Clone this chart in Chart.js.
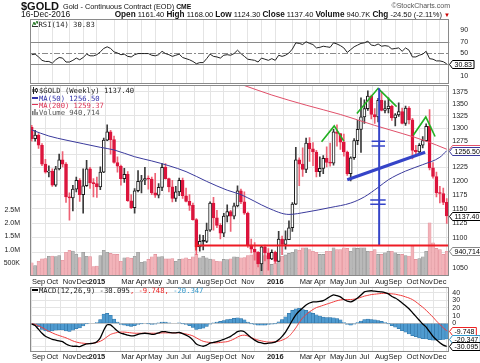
<!DOCTYPE html>
<html><head><meta charset="utf-8">
<script src="https://cdn.jsdelivr.net/npm/chart.js@4.4.0/dist/chart.umd.min.js"></script>
<style>
html,body{margin:0;padding:0;background:#fff;}
body{width:480px;height:363px;position:relative;overflow:hidden;font-family:'Liberation Sans',Arial,sans-serif;color:#111;}
canvas{position:absolute;left:0;top:0;}
.t{position:absolute;white-space:nowrap;line-height:1;}
.m{font-family:'DejaVu Sans Mono',monospace;font-size:7.2px;color:#222;}
.dash{display:inline-block;width:6px;height:1.5px;vertical-align:middle;margin-right:1px;position:relative;top:-1px;}
svg.ic{position:absolute;}
</style></head><body>
<canvas id="cRsi" width="480" height="363"></canvas>
<canvas id="cPrice" width="480" height="363"></canvas>
<canvas id="cMacd" width="480" height="363"></canvas>

<div class="t" style="left:21px;top:1px;font-weight:bold;font-size:11px;">$GOLD</div>
<div class="t" style="left:63px;top:3px;font-size:7.3px;">Gold - Continuous Contract (EOD) <b style="font-size:6.8px">CME</b></div>
<div class="t" style="right:30px;top:2px;font-size:7px;color:#555;">©StockCharts.com</div>
<div class="t" style="left:21px;top:10px;font-size:8.5px;">16-Dec-2016</div>
<div class="t" style="right:30px;top:10.8px;font-size:7.5px;"><b style="font-size:8.2px">Open</b> 1161.40 <b style="font-size:8.2px">High</b> 1168.00 <b style="font-size:8.2px">Low</b> 1124.30 <b style="font-size:8.2px">Close</b> 1137.40 <b style="font-size:8.2px">Volume</b> 940.7K <b style="font-size:8.2px">Chg</b> -24.50 (-2.11%) <span style="color:#c00;font-size:6px">▼</span></div>

<svg class="ic" style="left:32px;top:21px" width="6" height="6"><polyline points="0,6 2,1 3,4 5,0 6,3" fill="none" stroke="#2a7a2a" stroke-width="1"/><line x1="0" y1="5.5" x2="6" y2="5.5" stroke="#333" stroke-width="1"/></svg>
<div class="t m" style="left:38.5px;top:20.5px;">RSI(14) 30.83</div>
<svg class="ic" style="left:32px;top:87px" width="6" height="7"><line x1="1.5" y1="0" x2="1.5" y2="7" stroke="#222"/><rect x="0.5" y="2" width="2" height="3" fill="#222"/><line x1="4.5" y1="1" x2="4.5" y2="6" stroke="#222"/><rect x="3.5" y="2" width="2" height="2.5" fill="#fff" stroke="#222" stroke-width="0.8"/></svg>
<div class="t m" style="left:39px;top:86.5px;">$GOLD (Weekly) 1137.40</div>
<div class="t m" style="left:32px;top:94.8px;color:#3333aa;"><span class="dash" style="background:#3333aa"></span>MA(50) 1256.50</div>
<div class="t m" style="left:32px;top:101.5px;color:#dd3355;"><span class="dash" style="background:#dd3355"></span>MA(200) 1259.37</div>
<svg class="ic" style="left:32px;top:109px" width="6" height="6"><rect x="0" y="2" width="1.5" height="4" fill="#777"/><rect x="2.2" y="0" width="1.5" height="6" fill="#777"/><rect x="4.4" y="3" width="1.5" height="3" fill="#777"/></svg>
<div class="t m" style="left:39px;top:108.8px;color:#555;">Volume 940,714</div>
<div class="t m" style="left:32px;top:286.8px;"><span class="dash" style="background:#000"></span>MACD(12,26,9) -30.095<span style="color:#e22">, -9.748,</span> <span style="color:#39c">-20.347</span></div>

<script>
// ---------- DATA (weekly, 22-Aug-2014 .. 16-Dec-2016) ----------
const open = [1302,1280,1287,1267,1231,1216,1218,1192,1222,1239, 1231,1171,1169,1185,1201,1175,1191,1222,1196,1195, 1189,1216,1277,1293,1278,1234,1227,1204,1212,1164, 1152,1182,1199,1201,1204,1203,1178,1174,1188,1225, 1204,1189,1168,1180,1201,1173,1163,1156,1131,1085, 1094,1094,1113,1160,1134,1121,1108,1137,1145,1137, 1155,1182,1162,1142,1088,1081,1076,1057,1085,1075, 1065,1076,1061,1098,1089,1097,1117,1158,1239,1231, 1221,1271,1260,1254,1217,1223,1242,1234,1233,1293, 1290,1273,1254,1213,1243,1276,1298,1323,1340,1366, 1328,1323,1357,1336,1340,1345,1321,1327,1334,1310, 1341,1317,1257,1254,1267,1276,1304,1224,1208,1178, 1177,1161.4];
const high = [1306,1296,1290,1270,1240,1228,1222,1227,1250,1255, 1234,1178,1192,1207,1204,1222,1238,1225,1204,1207, 1226,1281,1307,1296,1285,1245,1229,1223,1217,1175, 1186,1219,1210,1225,1209,1207,1214,1195,1232,1232, 1205,1201,1190,1205,1205,1187,1175,1160,1133,1105, 1104,1125,1162,1170,1147,1124,1142,1157,1147,1160, 1191,1185,1180,1144,1098,1092,1077,1086,1088,1082, 1080,1078,1111,1103,1112,1129,1161,1263,1243,1262, 1281,1282,1272,1257,1245,1247,1264,1271,1298,1307, 1290,1289,1256,1245,1280,1316,1362,1358,1377,1368, 1340,1361,1375,1356,1362,1347,1330,1352,1341,1345, 1344,1320,1267,1270,1284,1309,1338,1234,1216,1190, 1187,1168];
const low = [1275,1275,1261,1228,1214,1207,1190,1190,1220,1226, 1161,1130,1146,1180,1163,1142,1190,1186,1171,1170, 1184,1215,1276,1250,1233,1216,1192,1197,1163,1150, 1142,1180,1178,1193,1185,1175,1170,1169,1182,1203, 1180,1162,1163,1173,1168,1162,1147,1130,1072,1078, 1080,1092,1111,1113,1117,1098,1102,1127,1111,1132, 1153,1159,1140,1084,1075,1063,1052,1046,1062,1047, 1064,1058,1061,1072,1081,1097,1111,1157,1191,1208, 1215,1236,1228,1207,1208,1213,1226,1227,1229,1265, 1259,1246,1210,1200,1240,1268,1253,1310,1336,1319, 1310,1313,1335,1331,1331,1316,1305,1324,1309,1306, 1309,1241,1248,1252,1262,1275,1220,1205,1171,1160, 1157,1124.3];
const close = [1280,1287,1267,1231,1216,1218,1192,1222,1239,1231, 1171,1169,1185,1201,1175,1191,1222,1196,1195,1189, 1216,1277,1293,1278,1234,1227,1204,1212,1164,1152, 1182,1199,1201,1204,1203,1178,1174,1188,1225,1204, 1189,1168,1180,1201,1173,1163,1156,1131,1085,1094, 1094,1113,1160,1134,1121,1108,1137,1145,1137,1155, 1182,1162,1142,1088,1081,1076,1057,1085,1075,1065, 1076,1061,1098,1089,1097,1117,1158,1239,1231,1221, 1271,1260,1254,1217,1223,1242,1234,1233,1293,1290, 1273,1254,1213,1243,1276,1298,1323,1340,1366,1328, 1323,1357,1336,1340,1345,1321,1327,1334,1310,1341, 1317,1257,1254,1267,1276,1304,1224,1208,1178,1177, 1161,1137.4];
// volume in millions
const volume = [0.50,0.40,0.56,0.65,0.66,0.75,0.76,0.74,0.78,0.60, 0.90,0.98,0.95,0.83,0.70,0.90,0.75,0.74,0.36,0.38, 0.78,0.98,0.90,0.86,0.83,0.82,0.56,0.69,0.70,0.68, 0.75,0.90,0.52,0.55,0.63,0.73,0.82,0.73,0.74,0.65, 0.65,0.66,0.56,0.63,0.65,0.69,0.63,0.73,0.82,0.69, 0.75,0.69,0.64,0.62,0.56,0.55,0.63,0.62,0.65,0.73, 0.72,0.69,0.70,0.78,0.80,0.94,0.90,0.82,0.78,0.63, 0.44,0.50,0.70,0.75,0.80,0.86,0.90,1.00,0.98,1.07, 1.07,1.00,0.94,0.90,0.82,0.82,0.94,0.94,1.07,1.00, 1.00,1.07,1.05,0.94,1.07,1.05,1.07,1.07,0.94,0.94, 1.00,0.82,0.82,0.88,0.94,0.94,0.88,0.82,0.82,0.78, 0.76,1.16,0.63,0.66,0.73,0.94,2.02,1.26,1.05,1.00, 0.82,0.9407];
const rsi = [47,48,43,37,35,35,32,38,42,41, 34,34,37,41,38,42,48,45,45,47, 52,58,61,58,52,50,47,48,44,43, 47,49,49,49,49,46,45,47,53,49, 47,44,46,48,42,40,38,35,31,33, 33,40,48,44,43,41,46,47,46,49, 55,49,44,39,38,37,34,41,39,37, 40,37,46,44,46,50,57,68,67,65, 70,67,65,59,60,62,61,60,68,66, 63,59,51,56,61,64,67,68,71,64, 63,66,62,63,62,57,58,59,53,59, 55,43,43,46,48,53,40,39,36,36, 34.5,30.83];
const macd = [-1,-3,-8,-13,-17,-19,-21,-22,-23,-24, -27,-29,-30,-30,-30.5,-28.5,-27,-26.5,-26,-24, -19,-9,-2,-2,-6,-10,-13,-14,-15.5,-16.5, -16,-14.5,-13.5,-13,-13.5,-14.5,-14,-12.5,-11,-11, -12,-12.5,-12.5,-12,-13.5,-15.5,-18,-22,-27,-29, -30,-28.5,-26,-25,-24,-22.5,-21,-19,-17,-14, -11,-10,-11,-15,-19,-22,-24.5,-25.5,-26.5,-26, -25.5,-24.5,-21.5,-17,-11.5,-4,4,11,16,20, 24,26.5,28,28,28.5,29.5,32,35,37,36, 34.5,31,29,28,30,33,37,41,42,42.5, 42,41.5,41,40,38.5,35,33,30,26.5,23, 19,14,9,4,-1,-5,-11,-17,-21.5,-25.5, -28.5,-30.095];
const signal = [-0.5,-1.5,-3.5,-5.5,-8,-10.5,-12.5,-14.5,-16,-17.5, -19,-21,-23,-24.5,-25.5,-26,-26.5,-26.5,-26,-25, -23.5,-21,-17.5,-14.5,-13,-12,-11.5,-11.5,-12,-12.5, -13,-13,-13,-13,-13,-13,-13,-13,-12.5,-12.5, -12.5,-12.5,-12.5,-12.5,-13,-14,-15,-16.5,-19,-21.5, -23.5,-24.5,-25,-25.5,-25.5,-25,-24.5,-24,-22.5,-20.5, -18,-16,-15.5,-16.5,-18.5,-20.5,-22,-23,-24,-24.5, -24.5,-24,-23.5,-22,-20,-17,-12,-6,1,7, 11.5,15,18,20.5,22,23.5,25,26.5,28,29.5, 30.5,31,31,31,31.5,32.5,34,35.5,36.5,37.5, 38,38.5,39,39.2,39,38.5,38,37,36,34.5, 33,31,28,24.5,21,17,12.5,8,3,-1.5, -6,-9.748];
const histogram = [-0.5,-1.5,-4.5,-8,-10,-10.5,-10,-9,-8.5,-8.5, -10,-10.5,-9,-7,-6,-3.5,-0.5,0,0,1, 5,12,13,10.5,5.5,1.5,-1.5,-2.5,-3.5,-4, -3,-1.5,-0.5,0,-0.5,-1.5,-1,0.5,1.5,1.5, 0.5,0,0,0.5,-0.5,-1.5,-3,-5.5,-8,-7.5, -6.5,-4,-1,0.5,1.5,2.5,3.5,5,5.5,6.5, 7,6,4.5,1.5,-0.5,-1.5,-2.5,-2.5,-2.5,-1.5, -1,-0.5,2,5,8.5,13,17,19,19.5,18, 17,15,13,11,9.5,8,7.5,7.5,7,6, 4.5,1,-1.5,-2.5,-1,1,3,5,5.5,5, 4.5,3.5,2.5,1,-0.5,-3,-5,-7,-9.5,-11.5, -14,-16,-17.5,-19,-20,-20.5,-21.5,-22,-22,-21.5, -21,-20.347];
// moving averages read at sampled weeks
const ma50Weeks  = [0,5,10,15,20,24,30,35,40,45,51,57,61,65,69,75,80,87,93,97,101,104,109,114,119,121];
const ma50Values = [1297,1285,1277,1270,1263,1258,1245,1237,1228,1217,1199,1183,1175,1163,1151,1140,1144,1152,1160,1171,1188,1202,1218,1230,1244,1256.5];
const ma200Weeks  = [50,55,62,70,80,90,100,108,115,121];
const ma200Values = [1418,1405,1388,1368,1347,1328,1306,1290,1275,1259.37];
// hand-drawn annotations [week, price]
const leftShoulder  = [[84.5,1274],[88.2,1305],[91.0,1275]];
const headLine      = [[94.8,1330],[101.0,1382],[106.4,1344]];
const rightShoulder = [[111.3,1287],[114.9,1323],[117.6,1284]];
const neckline      = [[92.0,1202],[114.7,1253.5]];
const measureLine   = [[101.3,1382],[101.3,1087]];
const equalUpperA = [[99.1,1275],[103.0,1275]];
const equalUpperB = [[99.1,1265.5],[103.0,1265.5]];
const equalLowerA = [[98.7,1165.5],[103.2,1165.5]];
const equalLowerB = [[98.7,1157.7],[103.2,1157.7]];
const targetLine  = [[47.6,1087],[121.75,1087]];
const targetTick  = [[47.9,1094],[47.9,1079]];
// ticks
const monthWeeks  = [2,6,11,15,19,24,28,32,36,41,45,50,54,58,63,67,71,76,80,84,89,93,97,102,106,111,115,119];
const monthLabels = ['Sep','Oct','Nov','Dec','2015','','Mar','Apr','May','Jun','Jul','Aug','Sep','Oct','Nov','','2016','','Mar','Apr','May','Jun','Jul','Aug','Sep','Oct','Nov','Dec'];
const priceTicks = [1050,1075,1100,1125,1150,1175,1200,1225,1250,1275,1300,1325,1350,1375];
const volTicks = [0.5,1.0,1.5,2.0,2.5];
const volTickLabels = ['500K','1.0M','1.5M','2.0M','2.5M'];
const rsiTicks = [10,30,50,70,90];
const macdTicks = [-30,-20,-10,0,10,20,30,40];

// ---------- helpers ----------
Chart.defaults.font.family = "'Liberation Sans', Arial, sans-serif";
Chart.defaults.animation = false;
const X_MIN = -0.5, X_MAX = 121.75;
const series = v => v.map((y,i)=>({x:i,y}));
const pts = a => a.map(p=>({x:p[0],y:p[1]}));
const zip = (w,v) => w.map((x,i)=>({x,y:v[i]}));
const GRID = '#e4e4e4';

function xScale(show, h){
  return {type:'linear', min:X_MIN, max:X_MAX, offset:false,
    afterBuildTicks:s=>{ s.ticks = monthWeeks.map(v=>({value:v})); },
    afterFit:s=>{ s.height = h; },
    ticks:{display:show, autoSkip:false, maxRotation:0, minRotation:0, padding:1, color:'#222',
      font:c=>({size:7.5, weight: /^\d{4}$/.test(monthLabels[c.index]||'') ? 'bold':'normal'}),
      callback:(v,i)=>monthLabels[i]},
    grid:{color:GRID, drawTicks:false}, border:{display:false}};
}
function rightY(extra){
  return Object.assign({position:'right', afterFit:s=>{s.width = 30.7;},
    ticks:{padding:3, color:'#222', font:{size:7}, autoSkip:false},
    grid:{color:GRID, drawTicks:false}, border:{display:false}}, extra);
}
function framePlugin(){
  return {id:'frame', afterDraw(chart){
    const c=chart.ctx, a=chart.chartArea; c.save(); c.strokeStyle='#8a8a8a'; c.lineWidth=1;
    const l=Math.round(a.left)+0.5, r=Math.round(a.right)-0.5, t=Math.round(a.top)+0.5, b=Math.round(a.bottom)-0.5;
    c.strokeRect(l,t,r-l,b-t); c.restore(); }};
}
function boxPlugin(items){
  return {id:'boxes', afterDraw(chart){
    const c=chart.ctx, a=chart.chartArea;
    items.forEach(b=>{
      const y=Math.round(chart.scales[b.scale].getPixelForValue(b.value))+0.5;
      c.save(); c.font='7px "Liberation Sans", Arial';
      const w=c.measureText(b.text).width+4, x0=Math.round(a.right)+0.5, h=8;
      c.beginPath(); c.moveTo(x0,y); c.lineTo(x0+3,y-h/2); c.lineTo(x0+3+w,y-h/2); c.lineTo(x0+3+w,y+h/2); c.lineTo(x0+3,y+h/2); c.closePath();
      c.fillStyle='#fff'; c.fill(); c.strokeStyle=b.color; c.lineWidth=1; c.stroke();
      c.fillStyle='#000'; c.textBaseline='middle'; c.textAlign='left'; c.fillText(b.text,x0+5,y+0.5);
      c.restore();
    });
  }};
}
const common = {responsive:false, animation:false, devicePixelRatio:1, events:[],
  plugins:{legend:{display:false}, tooltip:{enabled:false}}};

// ---------- RSI ----------
const rsiLevels = {id:'levels', beforeDatasetsDraw(chart){
  const c=chart.ctx, a=chart.chartArea, ys=chart.scales.y;
  c.save(); c.strokeStyle='#8a8a8a'; c.lineWidth=1;
  [70,30].forEach(v=>{const y=Math.round(ys.getPixelForValue(v))+0.5; c.beginPath(); c.moveTo(a.left,y); c.lineTo(a.right,y); c.stroke();});
  c.setLineDash([6,2,2,2]); const y=Math.round(ys.getPixelForValue(50))+0.5; c.beginPath(); c.moveTo(a.left,y); c.lineTo(a.right,y); c.stroke();
  c.restore(); }};
new Chart(document.getElementById('cRsi'), {
  type:'line',
  data:{datasets:[{data:series(rsi), borderColor:'#222', borderWidth:1, pointRadius:0, tension:0}]},
  options:Object.assign({}, common, {
    layout:{padding:{top:19, bottom:279, left:30, right:0}},
    scales:{
      x: xScale(false, 0),
      y: rightY({type:'linear', min:-4.9, max:110.2,
        afterBuildTicks:s=>{s.ticks = rsiTicks.map(v=>({value:v}));},
        ticks:{padding:3, color:'#222', font:{size:7}, autoSkip:false, callback:v=>String(v)},
        grid:{display:false}})
    }}),
  plugins:[rsiLevels, framePlugin(), boxPlugin([{scale:'y', value:30.83, text:'30.83', color:'#000'}])]
});

// ---------- PRICE + VOLUME ----------
const isDown = close.map((c,i)=> i===0 ? c<open[0] : c<close[i-1]);
const bodyLine = isDown.map(d=> d ? '#dc143c' : '#1a1a1a');
const bodyFill = close.map((c,i)=> c>open[i] ? '#ffffff' : bodyLine[i]);
const wickCol = isDown.map(d=> d ? '#ee6275' : '#3a3a3a');
const volFill = isDown.map(d=> d ? '#f3b3b9' : '#b9b9b9');
const volEdge = isDown.map(d=> d ? '#e0909a' : '#939393');
function annot(arr, color, width){
  return {type:'line', data:pts(arr), borderColor:color, borderWidth:width, pointRadius:0, tension:0, order:0, yAxisID:'y'};
}
new Chart(document.getElementById('cPrice'), {
  type:'bar',
  data:{datasets:[
    {type:'bar', yAxisID:'vol', order:6, grouped:false, barThickness:3.1, data:series(volume),
      backgroundColor:volFill, borderColor:volEdge, borderWidth:0.6, borderSkipped:false},
    {type:'bar', yAxisID:'y', order:5, grouped:false, barThickness:1, data:high.map((h,i)=>({x:i,y:[low[i],h]})),
      backgroundColor:wickCol, borderWidth:0},
    {type:'bar', yAxisID:'y', order:4, grouped:false, barThickness:3, minBarLength:1, data:open.map((o,i)=>({x:i,y:[o,close[i]]})),
      backgroundColor:bodyFill, borderColor:bodyLine, borderWidth:1, borderSkipped:false},
    {type:'line', yAxisID:'y', order:3, data:zip(ma200Weeks,ma200Values), borderColor:'#e0506a', borderWidth:1, pointRadius:0, cubicInterpolationMode:'monotone'},
    {type:'line', yAxisID:'y', order:2, data:zip(ma50Weeks,ma50Values), borderColor:'#3a3a9c', borderWidth:1, pointRadius:0, cubicInterpolationMode:'monotone'},
    annot(targetLine,'#ee1b24',2), annot(targetTick,'#ee1b24',1.5),
    annot(measureLine,'#3544c8',2), annot(neckline,'#3544c8',3),
    annot(equalUpperA,'#3544c8',1.5), annot(equalUpperB,'#3544c8',1.5),
    annot(equalLowerA,'#3544c8',1.5), annot(equalLowerB,'#3544c8',1.5),
    annot(leftShoulder,'#22b022',1.6), annot(headLine,'#22b022',1.6), annot(rightShoulder,'#22b022',1.6)
  ]},
  options:Object.assign({}, common, {
    layout:{padding:{top:85, bottom:75, left:0, right:0}},
    scales:{
      x: xScale(true, 12),
      y: rightY({type:'logarithmic', min:1037.7, max:1389.1, bounds:'data',
        afterBuildTicks:s=>{s.ticks = priceTicks.map(v=>({value:v}));},
        ticks:{padding:3, color:'#222', font:{size:7}, autoSkip:false, callback:v=>String(v)}}),
      vol:{type:'linear', position:'left', min:0, max:7.26,
        afterBuildTicks:s=>{s.ticks = volTicks.map(v=>({value:v}));},
        afterFit:s=>{s.width = 30;},
        ticks:{padding:2, color:'#222', font:{size:7}, autoSkip:false, callback:(v,i)=>volTickLabels[i]},
        grid:{display:false}, border:{display:false}}
    }}),
  plugins:[framePlugin(), boxPlugin([
    {scale:'vol', value:0.940714, text:'940,714', color:'#888'},
    {scale:'y', value:1137.40, text:'1137.40', color:'#000'},
    {scale:'y', value:1259.37, text:'1259.37', color:'#e0506a'},
    {scale:'y', value:1256.50, text:'1256.50', color:'#3a3a9c'}
  ])]
});

// ---------- MACD ----------
new Chart(document.getElementById('cMacd'), {
  type:'bar',
  data:{datasets:[
    {type:'line', order:1, data:series(macd), borderColor:'#000', borderWidth:1.3, pointRadius:0, tension:0.2},
    {type:'line', order:2, data:series(signal), borderColor:'#f03c3c', borderWidth:1, pointRadius:0, tension:0.2},
    {type:'bar', order:3, grouped:false, barThickness:3.43, data:series(histogram),
      backgroundColor:'#4f9bd0', borderColor:'#2a6d9e', borderWidth:0.5, borderSkipped:false}
  ]},
  options:Object.assign({}, common, {
    layout:{padding:{top:286.7, bottom:0.3, left:30, right:0}},
    scales:{
      x: xScale(true, 11),
      y: rightY({type:'linear', min:-37.1, max:47.8,
        afterBuildTicks:s=>{s.ticks = macdTicks.map(v=>({value:v}));},
        ticks:{padding:3, color:'#222', font:{size:7}, autoSkip:false, callback:v=>String(v)},
        grid:{color:c=> c.tick && c.tick.value===0 ? '#c8c8c8' : GRID, drawTicks:false}})
    }}),
  plugins:[framePlugin(), boxPlugin([
    {scale:'y', value:-9.748, text:'-9.748', color:'#e22'},
    {scale:'y', value:-20.347, text:'-20.347', color:'#39c'},
    {scale:'y', value:-30.095, text:'-30.095', color:'#000'}
  ])]
});
</script>
</body></html>
